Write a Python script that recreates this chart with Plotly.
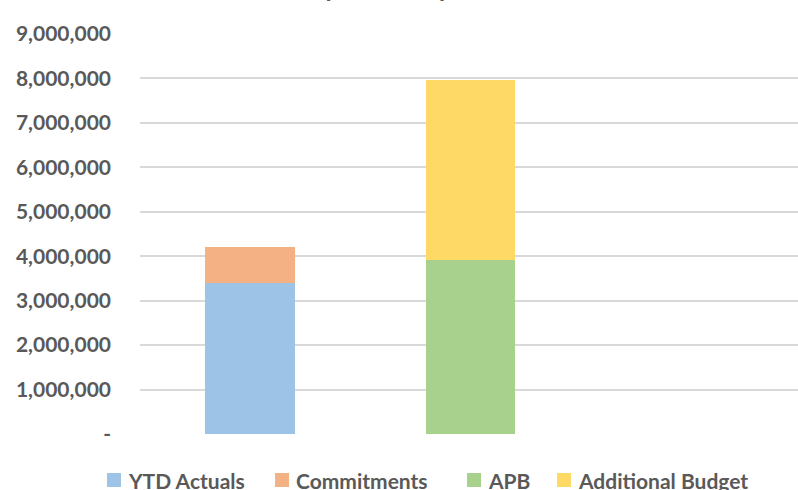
import plotly.graph_objects as go

categories = ["Actuals", "Budget", "Forecast"]
ytd_actuals = [3400000, None, None]
commitments = [810000, None, None]
apb = [None, 3915000, None]
additional_budget = [None, 4050000, None]

series_names = ["YTD Actuals", "Commitments", "APB", "Additional Budget"]
series_values = [ytd_actuals, commitments, apb, additional_budget]
series_colors = ["#9DC3E6", "#F4B183", "#A9D18E", "#FFD966"]

tick_vals = [0, 1000000, 2000000, 3000000, 4000000, 5000000, 6000000, 7000000, 8000000, 9000000]
tick_text = ["-"] + [f"{v:,}" for v in tick_vals[1:]]

W, H = 798, 490
ML, MR, MT, MB = 140, 0, 34, 56
PW, PH = W - ML - MR, H - MT - MB

# legend square left edges in pixels (layout only)
legend_px = [107, 275, 467, 557]
SQ = 14
LEG_Y = 480

def px_x(p):
    return (p - ML) / PW

def px_y(p):
    return (MT + PH - p) / PH

fig = go.Figure()
for name, vals, col in zip(series_names, series_values, series_colors):
    fig.add_trace(go.Bar(x=categories, y=vals, name=name, showlegend=False,
                         marker=dict(color=col, line=dict(width=0)), width=0.405))

font_fam = "Lato, 'Open Sans', sans-serif"
fig.update_layout(
    width=W, height=H,
    margin=dict(l=ML, r=MR, t=MT, b=MB, pad=0, autoexpand=False),
    barmode="stack",
    paper_bgcolor="white", plot_bgcolor="white",
    font=dict(family=font_fam, color="#595959"),
    xaxis=dict(range=[-0.5, 2.49], showticklabels=False, showgrid=False, zeroline=False,
               showline=False, ticks=""),
    yaxis=dict(range=[0, 9000000], tickvals=tick_vals, ticktext=tick_text,
               showgrid=True, gridcolor="#D9D9D9", gridwidth=1.5, zeroline=False,
               showline=False, ticks="", ticklabelstandoff=28,
               tickfont=dict(size=21, family=font_fam, color="#595959", weight="bold")),
)

for name, col, lx in zip(series_names, series_colors, legend_px):
    fig.add_shape(type="rect", xref="paper", yref="paper",
                  x0=px_x(lx), x1=px_x(lx + SQ), y0=px_y(LEG_Y + SQ / 2), y1=px_y(LEG_Y - SQ / 2),
                  fillcolor=col, line=dict(width=0), layer="above")
    fig.add_annotation(text=f"<b>{name}</b>", xref="paper", yref="paper",
                       x=px_x(lx + SQ + 5), xanchor="left", y=px_y(LEG_Y), yanchor="middle",
                       showarrow=False, xshift=0,
                       font=dict(size=21, family=font_fam, color="#595959"))

fig.add_annotation(text="<b>Spend Comparison</b>", xref="paper", yref="paper",
                   x=(416 - ML) / PW, xanchor="center",
                   y=1 + (MT - 4) / PH, yanchor="bottom", showarrow=False,
                   font=dict(size=25, family=font_fam, color="#595959"))

fig.write_html("out.html")
